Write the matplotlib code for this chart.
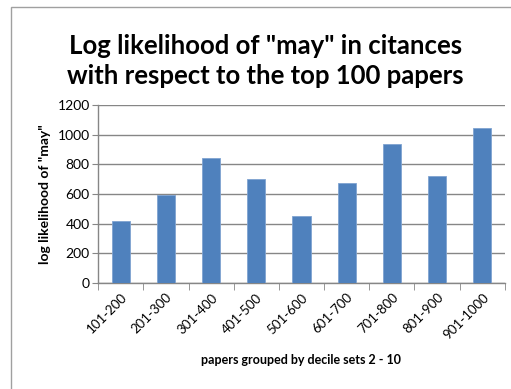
import matplotlib.pyplot as plt
from matplotlib.patches import Rectangle
import numpy as np

plt.rcParams['font.family'] = ['Lato', 'DejaVu Sans']

categories = ["101-200", "201-300", "301-400", "401-500", "501-600",
              "601-700", "701-800", "801-900", "901-1000"]
values = [420, 590, 840, 700, 450, 675, 935, 720, 1045]
yticks = [0, 200, 400, 600, 800, 1000, 1200]

fig = plt.figure(figsize=(5.11, 3.89), dpi=100)
ax = fig.add_axes([0.192, 0.2725, 0.796, 0.4575])

# Rahmen um das Diagramm (rechts/unten abgeschnitten)
fig.patches.append(Rectangle((11 / 511, -0.1), 1.2, 1 - 7 / 389 + 0.1,
                             transform=fig.transFigure, fill=False,
                             edgecolor='#a0a0a0', linewidth=1.0))

x = np.arange(len(categories))
ax.bar(x, values, width=0.4, color='#4f81bd', edgecolor='#7fa3d1',
       linewidth=0.6, zorder=3)

ax.set_xlim(-0.5, len(categories) - 0.5)
ax.set_ylim(0, 1200)
ax.set_yticks(yticks)
ax.tick_params(axis='y', labelsize=10, length=4, color='#868686', pad=2)
ax.yaxis.grid(True, color='#868686', linewidth=1.0, zorder=0)

ax.set_xticks(x)
ax.set_xticklabels(categories, rotation=45, ha='right', rotation_mode='anchor',
                   fontsize=9.5)
ax.tick_params(axis='x', length=0, pad=6)
ax.set_xticks(np.arange(len(categories) + 1) - 0.5, minor=True)
ax.tick_params(axis='x', which='minor', length=5, color='#868686')

for s in ['top', 'right']:
    ax.spines[s].set_visible(False)
for s in ['left', 'bottom']:
    ax.spines[s].set_color('#868686')
    ax.spines[s].set_linewidth(1.0)

ax.set_ylabel('log likelihood of "may"', fontsize=10, fontweight='bold', labelpad=5)
fig.text(0.59, 1 - 360 / 389, 'papers grouped by decile sets 2 - 10', ha='center',
         va='center', fontsize=9, fontweight='bold')

fig.text(0.52, 1 - 46 / 389, 'Log likelihood of "may" in citances', ha='center',
         va='center', fontsize=18.5, fontweight='bold')
fig.text(0.52, 1 - 76 / 389, 'with respect to the top 100 papers', ha='center',
         va='center', fontsize=18.5, fontweight='bold')

fig.savefig('out.png', dpi=100)
